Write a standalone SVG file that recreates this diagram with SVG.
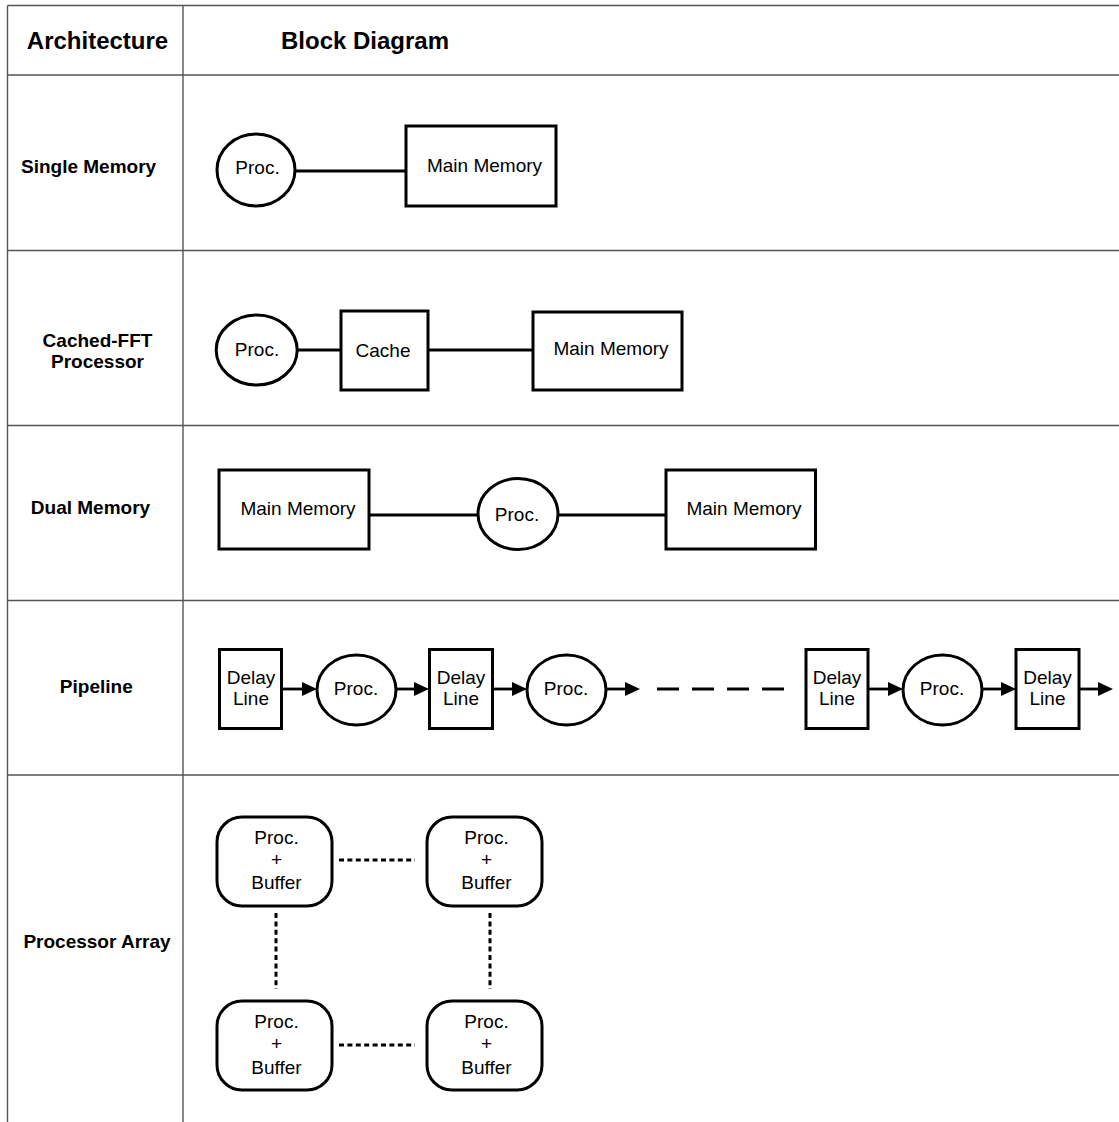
<svg xmlns="http://www.w3.org/2000/svg" width="1119" height="1122" viewBox="0 0 1119 1122">
  <defs>
    <style>
      .grid { stroke: #555; stroke-width: 1.4; fill: none; }
      .head { font-family: "Liberation Sans", Arial, sans-serif; font-weight: bold; font-size: 24px; fill: #000; }
      .lab { font-family: "Liberation Sans", Arial, sans-serif; font-weight: bold; font-size: 19px; fill: #000; }
      .txt { font-family: "Liberation Sans", Arial, sans-serif; font-size: 19px; fill: #000; }
      .box { fill: #fff; stroke: #000; stroke-width: 3; }
      .wire { stroke: #000; stroke-width: 2.8; fill: none; }
      .dash { stroke: #000; stroke-width: 2.8; fill: none; stroke-dasharray: 22 13; }
      .dot { stroke: #000; stroke-width: 3; fill: none; stroke-dasharray: 5 3.4; }
    </style>
    <marker id="arrow" markerUnits="userSpaceOnUse" markerWidth="16" markerHeight="14" refX="3" refY="7" orient="auto">
      <path d="M0,0 L15,7 L0,14 z" fill="#000"/>
    </marker>
  </defs>

  <rect width="1119" height="1122" fill="#fff"/>

  <!-- table grid -->
  <g id="table">
    <line class="grid" x1="7.5" y1="5.5" x2="1119" y2="5.5"/>
    <line class="grid" x1="7.5" y1="75" x2="1119" y2="75"/>
    <line class="grid" x1="7.5" y1="250.5" x2="1119" y2="250.5"/>
    <line class="grid" x1="7.5" y1="425.5" x2="1119" y2="425.5"/>
    <line class="grid" x1="7.5" y1="600.5" x2="1119" y2="600.5"/>
    <line class="grid" x1="7.5" y1="775" x2="1119" y2="775"/>
    <line class="grid" x1="7.5" y1="5.5" x2="7.5" y2="1122"/>
    <line class="grid" x1="183" y1="5.5" x2="183" y2="1122"/>
  </g>

  <!-- headings and row labels -->
  <g id="labels">
    <text class="head" x="97.5" y="49" text-anchor="middle">Architecture</text>
    <text class="head" x="281" y="49">Block Diagram</text>
    <text class="lab" x="21" y="173">Single Memory</text>
    <text class="lab" x="97.5" y="347" text-anchor="middle">Cached-FFT</text>
    <text class="lab" x="97.5" y="368" text-anchor="middle">Processor</text>
    <text class="lab" x="90.5" y="514" text-anchor="middle">Dual Memory</text>
    <text class="lab" x="96.3" y="693" text-anchor="middle">Pipeline</text>
    <text class="lab" x="97" y="948" text-anchor="middle">Processor Array</text>
  </g>

  <!-- connectors -->
  <g id="connectors">
    <!-- single memory -->
    <line class="wire" x1="295" y1="171" x2="406" y2="171"/>
    <!-- cached FFT -->
    <line class="wire" x1="297" y1="350" x2="341" y2="350"/>
    <line class="wire" x1="428" y1="350" x2="533" y2="350"/>
    <!-- dual memory -->
    <line class="wire" x1="369" y1="515" x2="478" y2="515"/>
    <line class="wire" x1="558" y1="515" x2="666" y2="515"/>
    <!-- pipeline -->
    <line class="wire" x1="282" y1="689" x2="305" y2="689" marker-end="url(#arrow)"/>
    <line class="wire" x1="396" y1="689" x2="417" y2="689" marker-end="url(#arrow)"/>
    <line class="wire" x1="492" y1="689" x2="515" y2="689" marker-end="url(#arrow)"/>
    <line class="wire" x1="606" y1="689" x2="628" y2="689" marker-end="url(#arrow)"/>
    <line class="dash" x1="657" y1="689" x2="784" y2="689"/>
    <line class="wire" x1="868" y1="689" x2="891" y2="689" marker-end="url(#arrow)"/>
    <line class="wire" x1="982" y1="689" x2="1004" y2="689" marker-end="url(#arrow)"/>
    <line class="wire" x1="1079" y1="689" x2="1101" y2="689" marker-end="url(#arrow)"/>
    <!-- processor array -->
    <line class="dot" x1="339" y1="860" x2="415" y2="860"/>
    <line class="dot" x1="339" y1="1045" x2="415" y2="1045"/>
    <line class="dot" x1="276" y1="913" x2="276" y2="989"/>
    <line class="dot" x1="490" y1="913" x2="490" y2="989"/>
  </g>

  <!-- Single Memory -->
  <g id="sm-proc">
    <ellipse class="box" cx="256" cy="170" rx="39" ry="36"/>
    <text class="txt" x="257.5" y="174" text-anchor="middle">Proc.</text>
  </g>
  <g id="sm-mem">
    <rect class="box" x="406" y="126" width="150" height="80"/>
    <text class="txt" x="484.5" y="172" text-anchor="middle">Main Memory</text>
  </g>

  <!-- Cached-FFT Processor -->
  <g id="cf-proc">
    <ellipse class="box" cx="256.7" cy="350" rx="40.5" ry="35"/>
    <text class="txt" x="257" y="356" text-anchor="middle">Proc.</text>
  </g>
  <g id="cf-cache">
    <rect class="box" x="341" y="311" width="87" height="79"/>
    <text class="txt" x="383" y="357" text-anchor="middle">Cache</text>
  </g>
  <g id="cf-mem">
    <rect class="box" x="533" y="312" width="149" height="78"/>
    <text class="txt" x="611" y="355" text-anchor="middle">Main Memory</text>
  </g>

  <!-- Dual Memory -->
  <g id="dm-mem1">
    <rect class="box" x="219" y="470" width="150" height="79"/>
    <text class="txt" x="298" y="515" text-anchor="middle">Main Memory</text>
  </g>
  <g id="dm-proc">
    <ellipse class="box" cx="518" cy="514" rx="40" ry="35.5"/>
    <text class="txt" x="517" y="521" text-anchor="middle">Proc.</text>
  </g>
  <g id="dm-mem2">
    <rect class="box" x="666" y="470" width="149.5" height="79"/>
    <text class="txt" x="744" y="515" text-anchor="middle">Main Memory</text>
  </g>

  <!-- Pipeline -->
  <g id="pl-delay1">
    <rect class="box" x="219.5" y="649.5" width="62" height="79"/>
    <text class="txt" x="251" y="684" text-anchor="middle">Delay</text>
    <text class="txt" x="251" y="705" text-anchor="middle">Line</text>
  </g>
  <g id="pl-proc1">
    <ellipse class="box" cx="356.5" cy="690" rx="39.5" ry="35"/>
    <text class="txt" x="356" y="695" text-anchor="middle">Proc.</text>
  </g>
  <g id="pl-delay2">
    <rect class="box" x="429.5" y="649.5" width="63" height="79"/>
    <text class="txt" x="461" y="684" text-anchor="middle">Delay</text>
    <text class="txt" x="461" y="705" text-anchor="middle">Line</text>
  </g>
  <g id="pl-proc2">
    <ellipse class="box" cx="566.5" cy="690" rx="39.5" ry="35"/>
    <text class="txt" x="566" y="695" text-anchor="middle">Proc.</text>
  </g>
  <g id="pl-delay3">
    <rect class="box" x="806" y="649.5" width="62" height="79"/>
    <text class="txt" x="837" y="684" text-anchor="middle">Delay</text>
    <text class="txt" x="837" y="705" text-anchor="middle">Line</text>
  </g>
  <g id="pl-proc3">
    <ellipse class="box" cx="942.5" cy="690" rx="39.5" ry="35"/>
    <text class="txt" x="942" y="695" text-anchor="middle">Proc.</text>
  </g>
  <g id="pl-delay4">
    <rect class="box" x="1016" y="649.5" width="63" height="79"/>
    <text class="txt" x="1047.5" y="684" text-anchor="middle">Delay</text>
    <text class="txt" x="1047.5" y="705" text-anchor="middle">Line</text>
  </g>

  <!-- Processor Array -->
  <g id="pa-tl">
    <rect class="box" x="217" y="817" width="115" height="89" rx="25" ry="25"/>
    <text class="txt" x="276.5" y="844" text-anchor="middle">Proc.</text>
    <text class="txt" x="276.5" y="866" text-anchor="middle">+</text>
    <text class="txt" x="276.5" y="889" text-anchor="middle">Buffer</text>
  </g>
  <g id="pa-tr">
    <rect class="box" x="427" y="817" width="115" height="89" rx="25" ry="25"/>
    <text class="txt" x="486.5" y="844" text-anchor="middle">Proc.</text>
    <text class="txt" x="486.5" y="866" text-anchor="middle">+</text>
    <text class="txt" x="486.5" y="889" text-anchor="middle">Buffer</text>
  </g>
  <g id="pa-bl">
    <rect class="box" x="217" y="1001" width="115" height="89" rx="25" ry="25"/>
    <text class="txt" x="276.5" y="1028" text-anchor="middle">Proc.</text>
    <text class="txt" x="276.5" y="1050" text-anchor="middle">+</text>
    <text class="txt" x="276.5" y="1074" text-anchor="middle">Buffer</text>
  </g>
  <g id="pa-br">
    <rect class="box" x="427" y="1001" width="115" height="89" rx="25" ry="25"/>
    <text class="txt" x="486.5" y="1028" text-anchor="middle">Proc.</text>
    <text class="txt" x="486.5" y="1050" text-anchor="middle">+</text>
    <text class="txt" x="486.5" y="1074" text-anchor="middle">Buffer</text>
  </g>
</svg>
